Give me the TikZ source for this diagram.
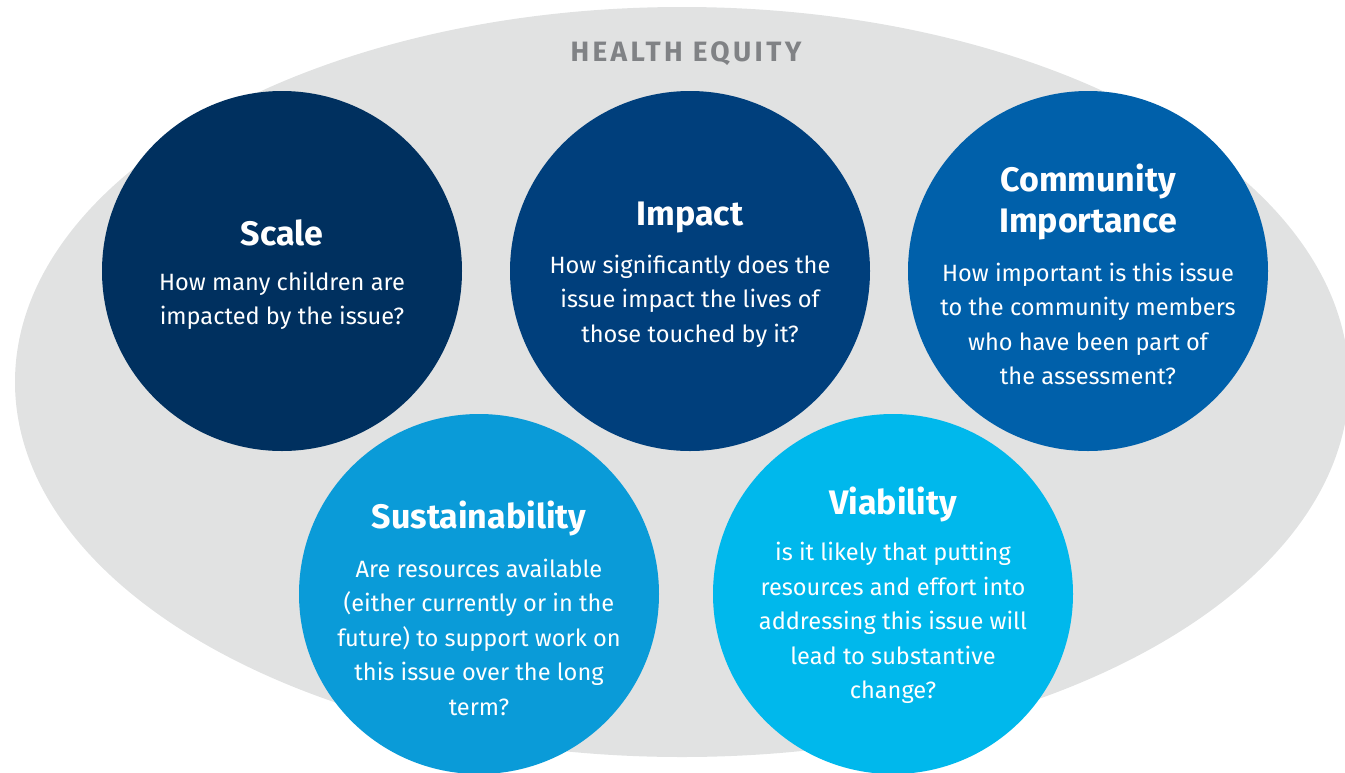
\documentclass[tikz,border=0pt]{standalone}
\usepackage{fontspec}
\setmainfont{Fira Sans}
\definecolor{equitygray}{HTML}{E1E2E2}
\definecolor{labelgray}{HTML}{808285}
\definecolor{scalecol}{HTML}{00305F}
\definecolor{impactcol}{HTML}{003F7C}
\definecolor{communitycol}{HTML}{0060AA}
\definecolor{sustaincol}{HTML}{0A9BD8}
\definecolor{viablecol}{HTML}{00B8EC}
\begin{document}
\begin{tikzpicture}[x=1pt,y=-1pt,
    topic/.style={circle, minimum size=360pt, inner sep=0pt},
    heading/.style={white, inner sep=0pt, align=center, font=\fontsize{34}{41}\selectfont\bfseries},
    question/.style={white, inner sep=0pt, align=center, font=\fontsize{23.6}{34.5}\selectfont}]
    \useasboundingbox (0,0) rectangle (1345,772);
    % background
        \fill[equitygray] (682,382) ellipse (667 and 375);
        \node[labelgray, font=\fontsize{28}{30}\selectfont\bfseries\addfontfeature{LetterSpace=12}] (equity) at (686,54) {HEALTH EQUITY};
    % circles
        \foreach \n/\x/\y/\c in {scale/282/271/scalecol, impact/690/271/impactcol, community/1088/271/communitycol, sustain/479/594/sustaincol, viable/893/594/viablecol}{
            \node[topic, fill=\c] (\n) at (\x,\y) {};
        }
    % texts
        \node[heading] (scale-t) at (282,233) {Scale};
        \node[question] (scale-q) at (282,301) {How many children are\\impacted by the issue?};
        \node[heading] (impact-t) at (690,217) {Impact};
        \node[question] (impact-q) at (690,301) {How significantly does the\\issue impact the lives of\\those touched by it?};
        \node[heading] (community-t) at (1088,202) {Community\\Importance};
        \node[question] (community-q) at (1088,324) {How important is this issue\\to the community members\\who have been part of\\the assessment?};
        \node[heading] (sustain-t) at (479,518) {Sustainability};
        \node[question] (sustain-q) at (479,637) {Are resources available\\(either currently or in the\\future) to support work on\\this issue over the long\\term?};
        \node[heading] (viable-t) at (893,504) {Viability};
        \node[question] (viable-q) at (893,623) {is it likely that putting\\resources and effort into\\addressing this issue will\\lead to substantive\\change?};
\end{tikzpicture}
\end{document}
